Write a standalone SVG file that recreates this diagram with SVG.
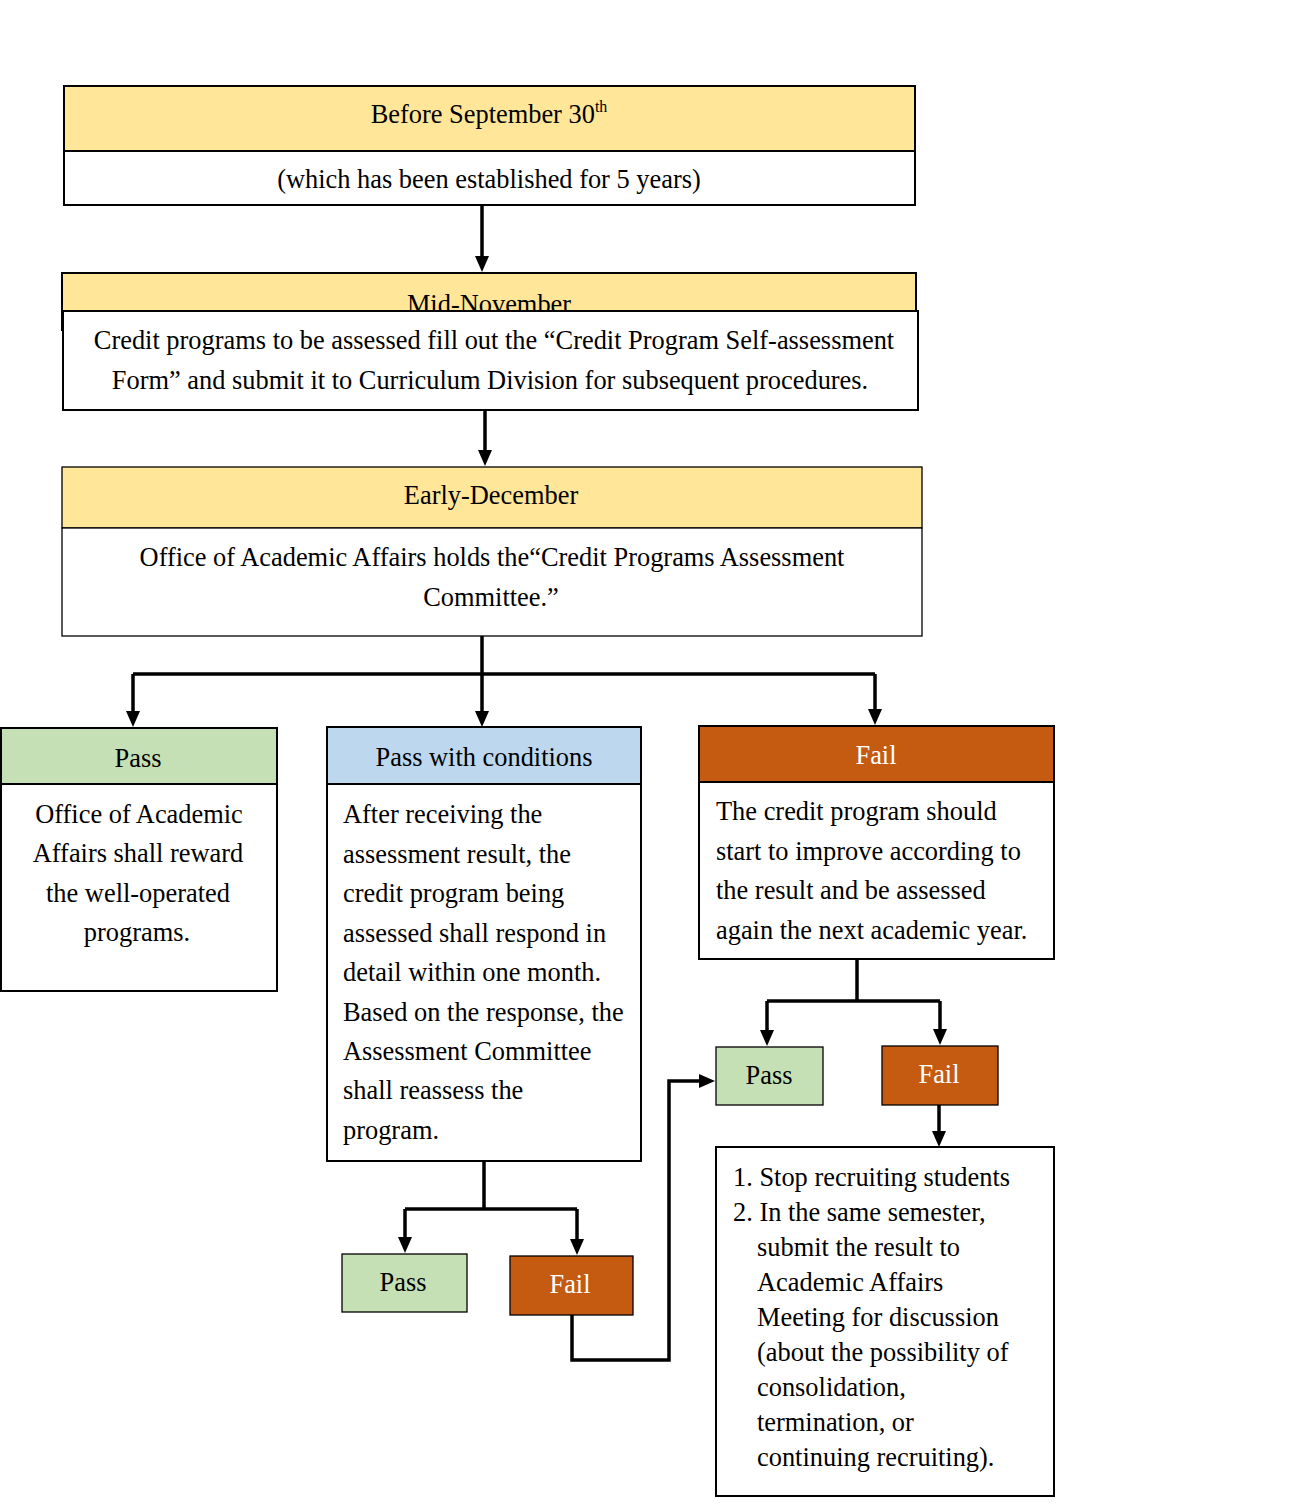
<svg xmlns="http://www.w3.org/2000/svg" width="1289" height="1505" viewBox="0 0 1289 1505">
<style>
text{font-family:"Liberation Serif","Times New Roman",serif;font-size:26.4px;fill:#000}
.c{text-anchor:middle}
.w{fill:#fff}
.yel{fill:#FFE699}
.grn{fill:#C5E0B4}
.blu{fill:#BDD7EE}
.org{fill:#C55A11}
.wht{fill:#fff}
.bd{stroke:#000;stroke-width:2}
.bd1{stroke:#000;stroke-width:1.3}
.con{fill:none;stroke:#000;stroke-width:3.5}
</style>
<defs>
<marker id="ah" viewBox="0 0 16 14" refX="7" refY="7" markerWidth="16" markerHeight="14" markerUnits="userSpaceOnUse" orient="auto">
<path d="M0,0 L16,7 L0,14 z" fill="#000"/>
</marker>
</defs>
<rect width="1289" height="1505" fill="#fff"/>

<g id="node-sept">
<rect class="yel bd" x="64" y="86" width="851" height="65"/>
<rect class="wht bd" x="64" y="151" width="851" height="54"/>
<text class="c" x="489" y="123">Before September 30<tspan font-size="16" dy="-11">th</tspan></text>
<text class="c" x="489" y="188">(which has been established for 5 years)</text>
</g>

<g id="node-nov">
<rect class="yel bd" x="62" y="273" width="854" height="57"/>
<text class="c" x="489" y="313">Mid-November</text>
<rect class="wht bd" x="63" y="311" width="855" height="99"/>
<text class="c" x="494" y="349">Credit programs to be assessed fill out the “Credit Program Self-assessment</text>
<text class="c" x="490" y="389">Form” and submit it to Curriculum Division for subsequent procedures.</text>
</g>

<g id="node-dec">
<rect class="yel bd1" x="62" y="467" width="860" height="61"/>
<rect class="wht bd1" x="62" y="528" width="860" height="108"/>
<text class="c" x="491" y="504">Early-December</text>
<text class="c" x="492" y="566">Office of Academic Affairs holds the“Credit Programs Assessment</text>
<text class="c" x="491" y="606">Committee.”</text>
</g>

<g id="node-pass">
<rect class="grn bd" x="1" y="728" width="276" height="56"/>
<rect class="wht bd" x="1" y="784" width="276" height="207"/>
<text class="c" x="138" y="767">Pass</text>
<text class="c" x="139" y="823">Office of Academic</text>
<text class="c" x="138" y="862">Affairs shall reward</text>
<text class="c" x="138" y="902">the well-operated</text>
<text class="c" x="137" y="941">programs.</text>
</g>

<g id="node-cond">
<rect class="blu bd" x="327" y="727" width="314" height="57"/>
<rect class="wht bd" x="327" y="784" width="314" height="377"/>
<text class="c" x="484" y="766">Pass with conditions</text>
<text x="343" y="823">After receiving the</text>
<text x="343" y="863">assessment result, the</text>
<text x="343" y="902">credit program being</text>
<text x="343" y="942">assessed shall respond in</text>
<text x="343" y="981">detail within one month.</text>
<text x="343" y="1021">Based on the response, the</text>
<text x="343" y="1060">Assessment Committee</text>
<text x="343" y="1099">shall reassess the</text>
<text x="343" y="1139">program.</text>
</g>

<g id="node-fail">
<rect class="org bd" x="699" y="726" width="355" height="56"/>
<rect class="wht bd" x="699" y="782" width="355" height="177"/>
<text class="c w" x="876" y="764">Fail</text>
<text x="716" y="820">The credit program should</text>
<text x="716" y="860">start to improve according to</text>
<text x="716" y="899">the result and be assessed</text>
<text x="716" y="939">again the next academic year.</text>
</g>

<g id="node-pass2">
<rect class="grn bd1" x="716" y="1047" width="107" height="58"/>
<text class="c" x="769" y="1084">Pass</text>
</g>

<g id="node-fail2">
<rect class="org bd1" x="882" y="1046" width="116" height="59"/>
<text class="c w" x="939" y="1083">Fail</text>
</g>

<g id="node-stop">
<rect class="wht bd" x="716" y="1147" width="338" height="349"/>
<text x="733" y="1186">1. Stop recruiting students</text>
<text x="733" y="1221">2. In the same semester,</text>
<text x="757" y="1256">submit the result to</text>
<text x="757" y="1291">Academic Affairs</text>
<text x="757" y="1326">Meeting for discussion</text>
<text x="757" y="1361">(about the possibility of</text>
<text x="757" y="1396">consolidation,</text>
<text x="757" y="1431">termination, or</text>
<text x="757" y="1466">continuing recruiting).</text>
</g>

<g id="node-pass3">
<rect class="grn bd1" x="342" y="1254" width="125" height="58"/>
<text class="c" x="403" y="1291">Pass</text>
</g>

<g id="node-fail3">
<rect class="org bd1" x="510" y="1256" width="123" height="59"/>
<text class="c w" x="570" y="1293">Fail</text>
</g>

<g id="connectors">
<path class="con" d="M482,205 V263" marker-end="url(#ah)"/>
<path class="con" d="M485,410 V457" marker-end="url(#ah)"/>
<path class="con" d="M482,636 V718" marker-end="url(#ah)"/>
<path class="con" d="M133,674 H875"/>
<path class="con" d="M133,674 V718" marker-end="url(#ah)"/>
<path class="con" d="M875,674 V716" marker-end="url(#ah)"/>
<path class="con" d="M857,959 V1001"/>
<path class="con" d="M767,1001 H940"/>
<path class="con" d="M767,1001 V1037" marker-end="url(#ah)"/>
<path class="con" d="M940,1001 V1036" marker-end="url(#ah)"/>
<path class="con" d="M939,1105 V1138" marker-end="url(#ah)"/>
<path class="con" d="M484,1161 V1209"/>
<path class="con" d="M405,1209 H577"/>
<path class="con" d="M405,1209 V1244" marker-end="url(#ah)"/>
<path class="con" d="M577,1209 V1246" marker-end="url(#ah)"/>
<path class="con" d="M572,1315 V1360 H669 V1081 H706" marker-end="url(#ah)"/>
</g>
</svg>
